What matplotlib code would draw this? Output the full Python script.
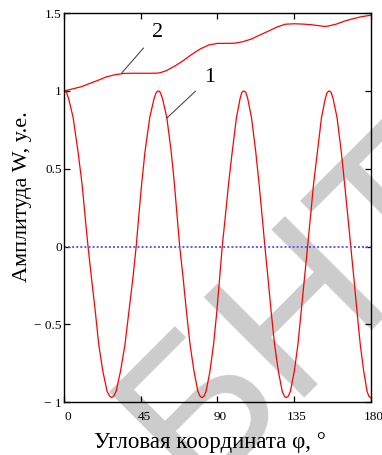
import matplotlib
matplotlib.use('Agg')
import matplotlib.pyplot as plt
import matplotlib.transforms as mtransforms

# curve 1: W(phi)
phi1 = [0.0, 1.2, 2.5, 5.1, 8.0, 10.4, 12.3, 13.9, 15.9, 18.2, 20.2, 22.6, 25.1, 26.6, 27.8,
        29.0, 30.4, 33.0, 35.6, 37.9, 40.3, 42.2, 43.6, 45.4, 47.4, 50.2, 52.7, 54.0, 55.2,
        56.4, 57.7, 60.2, 62.8, 64.7, 66.4, 67.8, 69.8, 71.8, 73.9, 76.2, 78.5, 79.7, 80.9,
        82.1, 83.3, 85.6, 87.7, 89.6, 91.3, 92.8, 94.5, 96.5, 98.7, 101.2, 103.3, 104.3, 105.5,
        106.7, 107.8, 110.0, 112.5, 114.5, 116.4, 117.9, 119.7, 121.6, 123.6, 125.8, 128.1,
        129.3, 130.5, 131.7, 132.9, 135.2, 137.3, 139.2, 141.2, 143.0, 144.6, 146.5, 148.8,
        151.2, 153.4, 154.5, 155.7, 156.9, 158.0, 160.3, 162.8, 164.8, 166.8, 168.4, 170.2,
        172.1, 174.0, 176.0, 178.0, 179.0, 180.0]
w1 = [1.00, 0.99, 0.95, 0.83, 0.61, 0.40, 0.18, 0.00, -0.20, -0.42, -0.63, -0.80, -0.93, -0.96, -0.97,
      -0.96, -0.93, -0.80, -0.63, -0.42, -0.20, 0.00, 0.18, 0.40, 0.61, 0.83, 0.95, 0.99, 1.00,
      0.99, 0.95, 0.83, 0.61, 0.40, 0.18, 0.00, -0.20, -0.42, -0.63, -0.80, -0.93, -0.96, -0.97,
      -0.96, -0.93, -0.80, -0.63, -0.42, -0.20, 0.00, 0.18, 0.40, 0.61, 0.83, 0.95, 0.99, 1.00,
      0.99, 0.95, 0.83, 0.61, 0.40, 0.18, 0.00, -0.20, -0.42, -0.63, -0.80, -0.93,
      -0.96, -0.97, -0.96, -0.93, -0.80, -0.63, -0.42, -0.20, 0.00, 0.18, 0.40, 0.61,
      0.83, 0.95, 0.99, 1.00, 0.99, 0.95, 0.83, 0.61, 0.40, 0.18, 0.00, -0.20,
      -0.42, -0.63, -0.80, -0.93, -0.96, -0.97]

# curve 2
phi2 = [0, 5, 10, 15, 20, 25, 30, 35, 40, 45, 50, 55, 57, 60, 65, 70, 75, 80, 85, 90,
        95, 100, 105, 110, 115, 120, 125, 130, 135, 140, 145, 150, 153, 155, 160, 165,
        170, 175, 180]
w2 = [1.000, 1.013, 1.027, 1.048, 1.069, 1.091, 1.104, 1.112, 1.113, 1.113, 1.113, 1.114,
      1.119, 1.130, 1.160, 1.195, 1.235, 1.270, 1.295, 1.305, 1.305, 1.306, 1.316, 1.333,
      1.359, 1.384, 1.410, 1.428, 1.431, 1.429, 1.425, 1.418, 1.414, 1.416, 1.429, 1.449,
      1.464, 1.477, 1.485]

xticks = [0, 45, 90, 135, 180]
yticks = [1.5, 1, 0.5, 0, -0.5, -1]
ytick_labels = ['1.5', '1', '0.5', '0', '\u2212 0.5', '\u2212 1']

serif = ['Liberation Serif', 'DejaVu Serif']

fig = plt.figure(figsize=(3.82, 4.55), dpi=100)
ax = fig.add_axes([0.1686, 0.1158, 0.8013, 0.8556])
ax.set_facecolor('none')

# watermark
fig.text(1.003, 0.337, 'БНТУ', fontsize=148, family='Liberation Sans', color='#cccccc',
         rotation=45, rotation_mode='anchor', ha='center', va='baseline', zorder=-1)

ax.plot(phi1, w1, color='red', lw=0.9)
ax.plot(phi2, w2, color='red', lw=0.9)
ax.plot([0, 180], [0, 0], color='#5a5aff', lw=1.4, linestyle=(0, (1, 1.1)))

ax.annotate('2', xy=(33.7, 1.115), xytext=(54.7, 1.377), fontsize=16, family=serif,
            ha='center', va='center',
            arrowprops=dict(arrowstyle='-', color='#333333', lw=0.7, shrinkA=6, shrinkB=0))
ax.annotate('1', xy=(60.3, 0.826), xytext=(85.6, 1.085), fontsize=16, family=serif,
            ha='center', va='center',
            arrowprops=dict(arrowstyle='-', color='#333333', lw=0.7, shrinkA=6, shrinkB=0))

ax.set_xlim(0, 180)
ax.set_ylim(-1, 1.5)
ax.set_xticks(xticks)
ax.set_yticks(yticks)
ax.set_yticklabels(ytick_labels)
ax.tick_params(direction='in', top=True, right=True, length=4, width=0.9,
               labelsize=9.5, colors='black')
ax.tick_params(axis='x', pad=6)
ax.tick_params(axis='y', pad=2)
for lab in ax.get_xticklabels() + ax.get_yticklabels():
    lab.set_family(serif)
shift = mtransforms.ScaledTranslation(3 / 100, 0, fig.dpi_scale_trans)
for lab in ax.get_xticklabels():
    lab.set_transform(lab.get_transform() + shift)
for sp in ax.spines.values():
    sp.set_linewidth(1.0)

ax.set_xlabel('Угловая координата φ, °', fontsize=16.5, family=serif)
ax.set_ylabel('Амплитуда W, у.е.', fontsize=16, family=serif)
ax.xaxis.set_label_coords(0.474, -0.075)
ax.yaxis.set_label_coords(-0.106, 0.528)

fig.savefig('out.png', dpi=100)
